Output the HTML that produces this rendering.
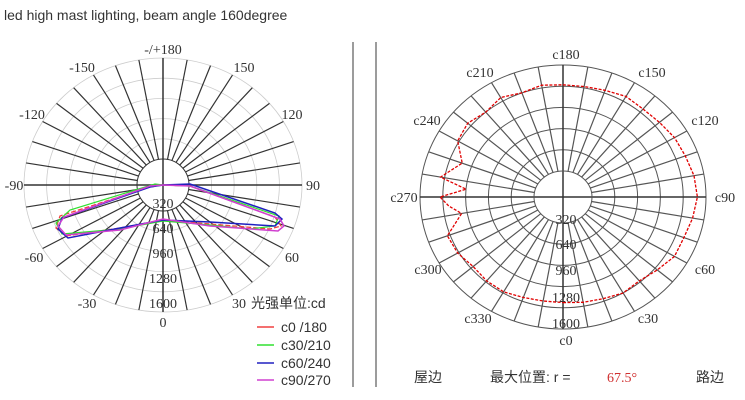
<!DOCTYPE html>
<html><head><meta charset="utf-8"><style>
body{margin:0;background:#fff;width:745px;height:400px;overflow:hidden}
svg{display:block}
text{font-family:"Liberation Serif","Noto Serif CJK SC",serif;fill:#333;font-size:14px}
.s{font-family:"Liberation Sans","Noto Sans CJK SC",sans-serif}
</style></head><body>
<svg id="c" width="745" height="400" xmlns="http://www.w3.org/2000/svg">
<text x="4" y="20" class="s" font-size="13" fill="#222">led high mast lighting, beam angle 160degree</text>
<line x1="353" y1="42" x2="353" y2="387" stroke="#666" stroke-width="1.3"/>
<line x1="376" y1="42" x2="376" y2="387" stroke="#666" stroke-width="1.3"/>
<g id="L"></g><g id="R"></g>
<!-- left labels -->
<text x="163" y="54" text-anchor="middle">-/+180</text>
<text x="82" y="72" text-anchor="middle">-150</text>
<text x="244" y="72" text-anchor="middle">150</text>
<text x="32" y="119" text-anchor="middle">-120</text>
<text x="292" y="119" text-anchor="middle">120</text>
<text x="14" y="190" text-anchor="middle">-90</text>
<text x="313" y="190" text-anchor="middle">90</text>
<text x="34" y="262" text-anchor="middle">-60</text>
<text x="292" y="262" text-anchor="middle">60</text>
<text x="87" y="308" text-anchor="middle">-30</text>
<text x="163" y="208" text-anchor="middle">320</text>
<text x="163" y="233" text-anchor="middle">640</text>
<text x="163" y="258" text-anchor="middle">960</text>
<text x="163" y="283" text-anchor="middle">1280</text>
<text x="163" y="308" text-anchor="middle">1600</text>
<text x="163" y="327" text-anchor="middle">0</text>
<text x="232" y="308">30</text>
<text x="251" y="308" class="s" font-size="13">光强单位:cd</text>
<g class="s" font-size="15">
<line x1="257" y1="327" x2="274" y2="327" stroke="#f04040" stroke-width="1.5"/><text x="281" y="332" class="s" font-size="15">c0 /180</text>
<line x1="257" y1="345" x2="274" y2="345" stroke="#30e030" stroke-width="1.5"/><text x="281" y="350" class="s" font-size="15">c30/210</text>
<line x1="257" y1="363" x2="274" y2="363" stroke="#2020c0" stroke-width="1.5"/><text x="281" y="368" class="s" font-size="15">c60/240</text>
<line x1="257" y1="380" x2="274" y2="380" stroke="#d040d0" stroke-width="1.5"/><text x="281" y="385" class="s" font-size="15">c90/270</text>
</g>
<!-- left curves -->
<path d="M163,185 L150,187 L60,216 L56,228 L66,236 L120,228 L163,220 L210,224 L270,229 L281,226 L275,217 L190,186 Z" fill="none" stroke="#f04040" stroke-width="1.3" stroke-dasharray="5,2"/>
<path d="M163,185 L155,184 L70,210 L56,223 L62,234 L120,229 L163,221 L210,225 L250,229 L275,226 L279,216 L190,186 Z" fill="none" stroke="#30e030" stroke-width="1.2"/>
<path d="M163,185 L150,187 L62,218 L58,229 L68,238 L120,228 L163,220 L210,222 L275,226 L282,219 L275,213 L190,184 Z" fill="none" stroke="#2020c0" stroke-width="1.5"/>
<path d="M163,185 L150,186 L64,217 L58,226 L66,235 L120,230 L163,219 L210,226 L278,231 L284,226 L280,219 L190,186 Z" fill="none" stroke="#d040d0" stroke-width="1.5"/>
<!-- right labels -->
<text x="566" y="59" text-anchor="middle">c180</text>
<text x="480" y="77" text-anchor="middle">c210</text>
<text x="652" y="77" text-anchor="middle">c150</text>
<text x="427" y="125" text-anchor="middle">c240</text>
<text x="705" y="125" text-anchor="middle">c120</text>
<text x="404" y="202" text-anchor="middle">c270</text>
<text x="725" y="202" text-anchor="middle">c90</text>
<text x="428" y="274" text-anchor="middle">c300</text>
<text x="705" y="274" text-anchor="middle">c60</text>
<text x="478" y="323" text-anchor="middle">c330</text>
<text x="648" y="323" text-anchor="middle">c30</text>
<text x="566" y="224" text-anchor="middle">320</text>
<text x="566" y="249" text-anchor="middle">640</text>
<text x="566" y="275" text-anchor="middle">960</text>
<text x="566" y="302" text-anchor="middle">1280</text>
<text x="566" y="328" text-anchor="middle">1600</text>
<text x="566" y="345" text-anchor="middle">c0</text>
<text x="414" y="382" class="s" font-size="14">屋边</text>
<text x="490" y="382" class="s" font-size="14">最大位置: r =</text>
<text x="607" y="382" font-size="14" fill="#d03030" style="fill:#d03030">67.5°</text>
<text x="696" y="382" class="s" font-size="14">路边</text>
<polyline id="rc" fill="none" stroke="#e00000" stroke-width="1.3" stroke-dasharray="3,1.5"/>
</svg>
<script>
var NS="http://www.w3.org/2000/svg";
function el(p,t,a){var e=document.createElementNS(NS,t);for(var k in a)e.setAttribute(k,a[k]);p.appendChild(e);return e;}
function polar(g,cx,cy,rx,ry,ix,iy,ringCol,spokeCol,ringW){
 for(var i=1;i<=5;i++){var f=i/5;el(g,"ellipse",{cx:cx,cy:cy,rx:ix+(rx-ix)*f,ry:iy+(ry-iy)*f,fill:"none",stroke:ringCol,"stroke-width":ringW});}
 for(var a=0;a<360;a+=10){var t=a*Math.PI/180,s=Math.sin(t),c=Math.cos(t);
  var main=(a%90==0);
  el(g,"line",{x1:main?cx:cx+s*ix,y1:main?cy:cy+c*iy,x2:cx+s*rx,y2:cy+c*ry,stroke:main?"#333":spokeCol,"stroke-width":main?1.5:1.2});}
 el(g,"ellipse",{cx:cx,cy:cy,rx:ix,ry:iy,fill:"none",stroke:spokeCol,"stroke-width":1});
}
polar(document.getElementById("L"),163,185,139,127,26,26,"#ccc","#333",0.8);
polar(document.getElementById("R"),563,197,143,132,29,26,"#555","#555",1);
var d=[[0,.80],[10,.81],[20,.82],[30,.84],[40,.83],[50,.86],[60,.9],[70,.9],[80,.92],[90,.94],[100,.93],[110,.91],[120,.9],[130,.88],[140,.87],[150,.88],[160,.86],[170,.85],[180,.85],[190,.86],[200,.84],[210,.87],[220,.84],[230,.87],[240,.85],[250,.75],[260,.87],[265,.68],[270,.86],[275,.80],[280,.72],[290,.86],[300,.85],[310,.82],[320,.83],[330,.83],[340,.81],[350,.80],[360,.80]];
var pts=d.map(function(p){var t=p[0]*Math.PI/180;return (563+Math.sin(t)*143*p[1]).toFixed(1)+","+(197+Math.cos(t)*132*p[1]).toFixed(1);}).join(" ");
document.getElementById("rc").setAttribute("points",pts);
</script>
</body></html>
